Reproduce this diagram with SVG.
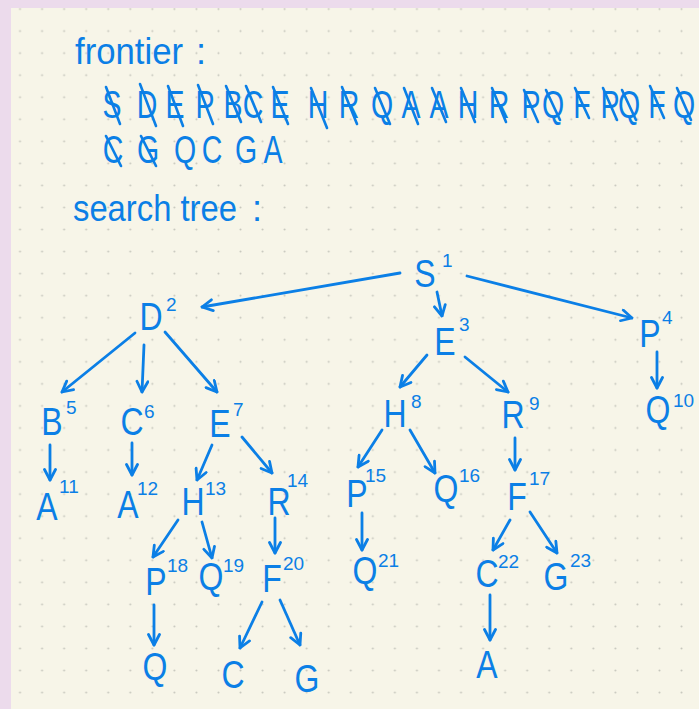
<svg xmlns="http://www.w3.org/2000/svg" width="699" height="709" viewBox="0 0 699 709">
<defs>
<pattern id="dots" x="9" y="-2" width="22.05" height="22.05" patternUnits="userSpaceOnUse">
<circle cx="11.025" cy="11.025" r="1" fill="#c6c6bc"/>
</pattern>
<marker id="ah" viewBox="0 0 14 14" markerWidth="14" markerHeight="14" refX="12.5" refY="7" orient="auto" markerUnits="userSpaceOnUse">
<path d="M2,1.5 L12.5,7 L2,12.5" fill="none" stroke="#0b7fe6" stroke-width="2.8" stroke-linecap="round" stroke-linejoin="round"/>
</marker>
</defs>
<style>
.ink{fill:#0b7fe6;font-family:"Liberation Sans","DejaVu Sans",sans-serif}
.h{font-size:36px}
.f{font-size:38px;text-anchor:middle}
.n{font-size:39px;text-anchor:middle}
.s{font-size:19px}
.k{stroke:#0b7fe6;stroke-width:2.6;stroke-linecap:round}
.e{fill:none;stroke:#0b7fe6;stroke-width:2.8;stroke-linecap:round;marker-end:url(#ah)}
</style>
<rect width="699" height="709" fill="#ecdbec"/>
<rect x="11" y="8" width="688" height="701" fill="#f7f5e8"/>
<rect x="11" y="8" width="688" height="701" fill="url(#dots)"/>

<g id="headings" class="ink">
<text class="h" x="75" y="64" textLength="108" lengthAdjust="spacingAndGlyphs">frontier</text>
<text class="h" x="196" y="64">:</text>
<text class="h" x="73" y="221" textLength="164" lengthAdjust="spacingAndGlyphs">search tree</text>
<text class="h" x="252" y="221">:</text>
</g>

<g id="frontier" class="ink">
<g transform="scale(0.75,1)">
<text class="f" y="118"><tspan x="149.3">S</tspan><tspan x="196">D</tspan><tspan x="233.3">E</tspan><tspan x="273.3">P</tspan><tspan x="310.7">B</tspan><tspan x="337.3">C</tspan><tspan x="373.3">E</tspan><tspan x="424">H</tspan><tspan x="465.3">R</tspan><tspan x="509.3">Q</tspan><tspan x="548">A</tspan><tspan x="585.3">A</tspan><tspan x="624">H</tspan><tspan x="665.3">R</tspan><tspan x="708">P</tspan><tspan x="737.3">Q</tspan><tspan x="776">F</tspan><tspan x="813.3">P</tspan><tspan x="838.7">Q</tspan><tspan x="876">F</tspan><tspan x="912">Q</tspan></text>
<text class="f" y="163"><tspan x="150.7">C</tspan><tspan x="197.3">G</tspan><tspan x="246.7">Q</tspan><tspan x="282.7">C</tspan><tspan x="328">G</tspan><tspan x="364">A</tspan></text>
</g>
<g id="strikes">
<line class="k" x1="106" y1="87" x2="120" y2="124"/>
<line class="k" x1="140" y1="84" x2="156" y2="126"/>
<line class="k" x1="168" y1="86" x2="183" y2="126"/>
<line class="k" x1="198" y1="85" x2="213" y2="124"/>
<line class="k" x1="226" y1="86" x2="241" y2="122"/>
<line class="k" x1="246" y1="86" x2="261" y2="122"/>
<line class="k" x1="273" y1="87" x2="288" y2="124"/>
<line class="k" x1="311" y1="88" x2="327" y2="128"/>
<line class="k" x1="342" y1="87" x2="357" y2="124"/>
<line class="k" x1="375" y1="88" x2="390" y2="124"/>
<line class="k" x1="404" y1="88" x2="418" y2="124"/>
<line class="k" x1="432" y1="88" x2="446" y2="122"/>
<line class="k" x1="461" y1="88" x2="475" y2="122"/>
<line class="k" x1="492" y1="88" x2="506" y2="122"/>
<line class="k" x1="524" y1="90" x2="538" y2="122"/>
<line class="k" x1="546" y1="90" x2="560" y2="120"/>
<line class="k" x1="575" y1="88" x2="589" y2="118"/>
<line class="k" x1="603" y1="88" x2="617" y2="120"/>
<line class="k" x1="622" y1="90" x2="636" y2="120"/>
<line class="k" x1="650" y1="86" x2="664" y2="118"/>
<line class="k" x1="677" y1="88" x2="691" y2="120"/>
<line class="k" x1="106" y1="136" x2="121" y2="166"/>
<line class="k" x1="141" y1="136" x2="156" y2="166"/>
</g>
</g>

<g id="connectors">
<path class="e" d="M400,273 L202,307"/>
<path class="e" d="M437,292 L442,316"/>
<path class="e" d="M467,276 L632,318"/>
<path class="e" d="M135,333 L62,392"/>
<path class="e" d="M144,345 L142,392"/>
<path class="e" d="M165,332 L217,392"/>
<path class="e" d="M427,355 L400,387"/>
<path class="e" d="M465,357 L508,392"/>
<path class="e" d="M657,352 L657,388"/>
<path class="e" d="M50,445 L50,480"/>
<path class="e" d="M132,443 L132,475"/>
<path class="e" d="M212,445 L197,480"/>
<path class="e" d="M242,437 L272,473"/>
<path class="e" d="M382,430 L358,467"/>
<path class="e" d="M410,430 L435,473"/>
<path class="e" d="M515,438 L515,470"/>
<path class="e" d="M178,520 L153,557"/>
<path class="e" d="M202,522 L212,558"/>
<path class="e" d="M275,518 L275,553"/>
<path class="e" d="M362,513 L362,550"/>
<path class="e" d="M510,520 L493,550"/>
<path class="e" d="M530,512 L557,553"/>
<path class="e" d="M154,605 L154,645"/>
<path class="e" d="M262,602 L240,648"/>
<path class="e" d="M280,600 L300,645"/>
<path class="e" d="M490,595 L490,640"/>
</g>

<g class="ink">
<g id="n1"><text class="n" transform="translate(425,287) scale(0.82,1)">S</text><text class="s" x="442" y="267">1</text></g>
<g id="n2"><text class="n" transform="translate(151,330) scale(0.82,1)">D</text><text class="s" x="166" y="311">2</text></g>
<g id="n3"><text class="n" transform="translate(445,355) scale(0.82,1)">E</text><text class="s" x="459" y="331">3</text></g>
<g id="n4"><text class="n" transform="translate(650,347) scale(0.82,1)">P</text><text class="s" x="662" y="324">4</text></g>
<g id="n5"><text class="n" transform="translate(52,435) scale(0.82,1)">B</text><text class="s" x="66" y="414">5</text></g>
<g id="n6"><text class="n" transform="translate(132,435) scale(0.82,1)">C</text><text class="s" x="144" y="418">6</text></g>
<g id="n7"><text class="n" transform="translate(220,437) scale(0.82,1)">E</text><text class="s" x="233" y="416">7</text></g>
<g id="n8"><text class="n" transform="translate(395,427) scale(0.82,1)">H</text><text class="s" x="411" y="408">8</text></g>
<g id="n9"><text class="n" transform="translate(513,428) scale(0.82,1)">R</text><text class="s" x="529" y="410">9</text></g>
<g id="n10"><text class="n" transform="translate(658,423) scale(0.82,1)">Q</text><text class="s" x="673" y="407">10</text></g>
<g id="n11"><text class="n" transform="translate(47,520) scale(0.82,1)">A</text><text class="s" x="59" y="493">11</text></g>
<g id="n12"><text class="n" transform="translate(128,518) scale(0.82,1)">A</text><text class="s" x="137" y="495">12</text></g>
<g id="n13"><text class="n" transform="translate(193,515) scale(0.82,1)">H</text><text class="s" x="205" y="495">13</text></g>
<g id="n14"><text class="n" transform="translate(279,515) scale(0.82,1)">R</text><text class="s" x="287" y="487">14</text></g>
<g id="n15"><text class="n" transform="translate(357,507) scale(0.82,1)">P</text><text class="s" x="365" y="482">15</text></g>
<g id="n16"><text class="n" transform="translate(446,502) scale(0.82,1)">Q</text><text class="s" x="459" y="482">16</text></g>
<g id="n17"><text class="n" transform="translate(517,510) scale(0.82,1)">F</text><text class="s" x="529" y="485">17</text></g>
<g id="n18"><text class="n" transform="translate(156,595) scale(0.82,1)">P</text><text class="s" x="167" y="572">18</text></g>
<g id="n19"><text class="n" transform="translate(211,590) scale(0.82,1)">Q</text><text class="s" x="223" y="572">19</text></g>
<g id="n20"><text class="n" transform="translate(272,592) scale(0.82,1)">F</text><text class="s" x="283" y="570">20</text></g>
<g id="n21"><text class="n" transform="translate(365,584) scale(0.82,1)">Q</text><text class="s" x="378" y="567">21</text></g>
<g id="n22"><text class="n" transform="translate(487,587) scale(0.82,1)">C</text><text class="s" x="498" y="568">22</text></g>
<g id="n23"><text class="n" transform="translate(556,590) scale(0.82,1)">G</text><text class="s" x="570" y="567">23</text></g>
<g id="n24"><text class="n" transform="translate(155,680) scale(0.82,1)">Q</text></g>
<g id="n25"><text class="n" transform="translate(233,688) scale(0.82,1)">C</text></g>
<g id="n26"><text class="n" transform="translate(307,692) scale(0.82,1)">G</text></g>
<g id="n27"><text class="n" transform="translate(487,678) scale(0.82,1)">A</text></g>
</g>
</svg>
